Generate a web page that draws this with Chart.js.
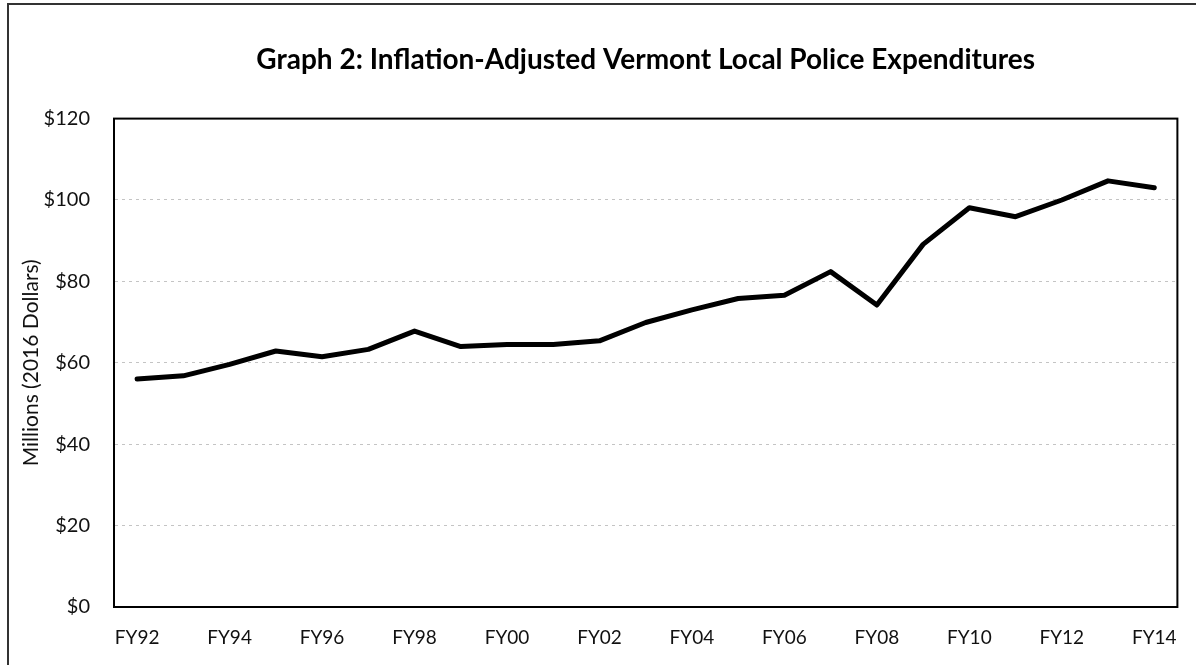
<!DOCTYPE html>
<html>
<head>
    <title>Graph 2: Inflation-Adjusted Vermont Local Police Expenditures</title>
    <script src="https://cdn.jsdelivr.net/npm/chart.js"></script>
    <style>
        body {
            margin: 0;
            padding: 0;
            background-color: #ffffff;
        }
        .chart-container {
            width: 1196px;
            height: 665px;
        }
    </style>
</head>
<body>
    <div class="chart-container">
        <canvas id="policeChart" width="1196" height="665"></canvas>
    </div>

    <script>
        const fiscalYears = ['FY92', 'FY93', 'FY94', 'FY95', 'FY96', 'FY97', 'FY98', 'FY99', 'FY00', 'FY01', 'FY02', 'FY03',
            'FY04', 'FY05', 'FY06', 'FY07', 'FY08', 'FY09', 'FY10', 'FY11', 'FY12', 'FY13', 'FY14'];
        // millions of 2016 dollars
        const expenditures = [56.0, 56.8, 59.6, 62.9, 61.5, 63.3, 67.8, 64.0, 64.5, 64.5, 65.4, 69.9,
            73.0, 75.8, 76.6, 82.4, 74.2, 89.1, 98.1, 95.9, 100.0, 104.7, 103.0];
        const yTicks = [0, 20, 40, 60, 80, 100, 120];

        const fontName = 'Lato, "Open Sans", sans-serif';

        // frame around the page and box around the plot
        const framePlugin = {
            id: 'frame',
            afterDraw(chart) {
                const c = chart.ctx;
                const a = chart.chartArea;
                c.save();
                c.strokeStyle = '#333333';
                c.lineWidth = 2;
                c.beginPath();
                c.moveTo(8, 665);
                c.lineTo(8, 4);
                c.lineTo(1196, 4);
                c.stroke();
                c.strokeStyle = '#000000';
                c.lineWidth = 2;
                c.strokeRect(a.left, a.top, a.right - a.left, a.bottom - a.top);
                c.restore();
            }
        };

        const ctx = document.getElementById('policeChart').getContext('2d');
        const policeChart = new Chart(ctx, {
            type: 'line',
            data: {
                labels: fiscalYears,
                datasets: [{
                    label: 'Local Police Expenditures',
                    data: expenditures,
                    borderColor: '#000000',
                    borderWidth: 5,
                    pointRadius: 0,
                    tension: 0,
                    borderJoinStyle: 'round',
                    borderCapStyle: 'round'
                }]
            },
            options: {
                responsive: false,
                animation: false,
                layout: {
                    padding: { left: 10, right: 14, top: 12, bottom: 0 }
                },
                plugins: {
                    legend: { display: false },
                    tooltip: { enabled: false },
                    title: {
                        display: true,
                        fullSize: false,
                        text: 'Graph 2: Inflation-Adjusted Vermont Local Police Expenditures',
                        color: '#000000',
                        font: { family: fontName, size: 28, weight: 'bold' },
                        padding: { top: 31, bottom: 42 }
                    }
                },
                scales: {
                    x: {
                        offset: true,
                        grid: { display: false, drawTicks: false },
                        border: { display: true, color: '#000000', width: 2 },
                        ticks: {
                            autoSkip: false,
                            maxRotation: 0,
                            padding: 19,
                            color: '#111111',
                            font: { family: fontName, size: 19 },
                            callback: function (value, index) {
                                return index % 2 === 0 ? fiscalYears[index] : '';
                            }
                        },
                        afterFit: function (scale) { scale.height = 58; }
                    },
                    y: {
                        min: yTicks[0],
                        max: yTicks[yTicks.length - 1],
                        afterBuildTicks: function (scale) {
                            scale.ticks = yTicks.map(v => ({ value: v }));
                        },
                        grid: { color: '#c4c4c4', lineWidth: 1, drawTicks: false },
                        border: { display: true, color: '#000000', width: 2, dash: [3, 4] },
                        ticks: {
                            padding: 24,
                            color: '#111111',
                            font: { family: fontName, size: 20 },
                            callback: function (value) { return '$' + value; }
                        },
                        title: {
                            display: true,
                            text: 'Millions (2016 Dollars)',
                            color: '#111111',
                            font: { family: fontName, size: 21 },
                            padding: { top: 9, bottom: 0 }
                        },
                        afterFit: function (scale) { scale.width = 104; }
                    }
                }
            },
            plugins: [framePlugin]
        });
    </script>
</body>
</html>
